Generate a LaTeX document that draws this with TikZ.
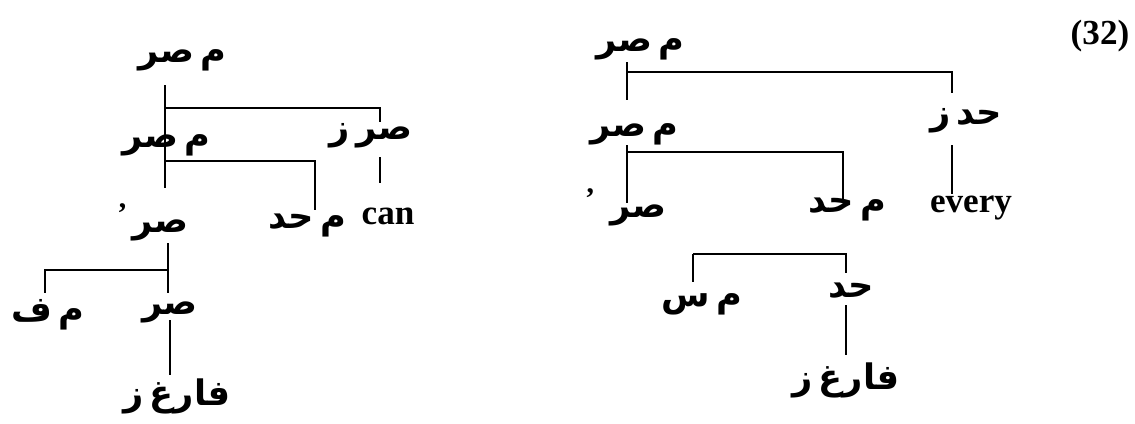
\documentclass[tikz,border=0pt]{standalone}
\usepackage{fontspec}
\setmainfont{Liberation Serif}
\newfontfamily\arabicfont[Script=Arabic,WordSpace=0.5]{DejaVu Sans}
\TeXXeTstate=1
\usetikzlibrary{positioning,calc}
\newcommand{\arb}[1]{{\arabicfont\bfseries\beginR #1\endR}}
\newcommand{\bartick}{\smash{\raisebox{5pt}{\fontsize{17}{17}\selectfont\bfseries'}}\kern3pt}

\begin{document}
\begin{tikzpicture}[
  x = 0.02cm, y = -0.02cm,
  lab/.style = {inner sep=0pt, outer sep=0pt, font=\fontsize{20}{24}\selectfont},
  lat/.style = {inner sep=0pt, outer sep=0pt, font=\fontsize{20}{24}\selectfont\bfseries},
  br/.style  = {line width=1.2pt}
]
  \useasboundingbox (0,0) rectangle (1135,423);

  % left tree
  \node[lab] (LmT)  at (182,60)  {\arb{م صر}};
  \node[lab] (LmS)  at (166,145) {\arb{م صر}};
  \node[lab] (LsZ)  at (371,136) {\arb{صر ز}};
  \node[lat] (Lcan) at (388,216) {can};
  \node[lab] (Lsp)  at (153,230) {\bartick\arb{صر}};
  \node[lab] (Lmh)  at (307,225) {\arb{م حد}};
  \node[lab] (Lmf)  at (48,315)  {\arb{م ف}};
  \node[lab] (Lsr)  at (170,312) {\arb{صر}};
  \node[lab] (Lfz)  at (177,396) {\arb{فارغ ز}};

  \coordinate (Lj1) at (165,108); \coordinate (Lk1) at (380,108);
  \coordinate (Lj2) at (165,161); \coordinate (Lk2) at (315,161);
  \coordinate (Lj3) at (168,270); \coordinate (Lk3) at (45,270);
  \coordinate (Lj4) at (170,345);

  \draw[br] ($(LmT.center -| Lj1)+(0,25)$) -- ($(Lsp.center -| Lj1)+(0,-42)$);
  \draw[br] (Lj1) -- (Lk1) -- ($(LsZ.center -| Lk1)+(0,-14)$);
  \draw[br] ($(LsZ.center -| Lk1)+(0,21)$) -- ($(Lcan.center -| Lk1)+(0,-33)$);
  \draw[br] (Lj2) -- (Lk2) -- ($(Lmh.center -| Lk2)+(0,-15)$);
  \draw[br] ($(Lsp.center -| Lj3)+(0,13)$) -- ($(Lsr.center -| Lj3)+(0,-19)$);
  \draw[br] (Lj3) -- (Lk3) -- ($(Lmf.center -| Lk3)+(0,-22)$);
  \draw[br] ($(Lsr.center -| Lj4)+(0,8)$) -- ($(Lfz.center -| Lj4)+(0,-21)$);

  % right tree
  \node[lab] (RmT)  at (640,49)  {\arb{م صر}};
  \node[lab] (RhZ)  at (966,121) {\arb{حد ز}};
  \node[lat] (Revr) at (971,208) {every};
  \node[lab] (RmS)  at (634,134) {\arb{م صر}};
  \node[lab] (Rsp)  at (626,215) {\bartick\kern6pt\arb{صر}};
  \node[lab] (Rmh)  at (847,209) {\arb{م حد}};
  \node[lab] (Rms)  at (702,304) {\arb{م س}};
  \node[lab] (Rhd)  at (851,291) {\arb{حد}};
  \node[lab] (Rfz)  at (846,380) {\arb{فارغ ز}};

  \coordinate (Rj1) at (627,72);  \coordinate (Rk1) at (952,72);
  \coordinate (Rj2) at (627,152); \coordinate (Rk2) at (843,152);
  \coordinate (Rj3) at (846,254); \coordinate (Rk3) at (693,254);

  \draw[br] ($(RmT.center -| Rj1)+(0,13)$) -- ($(RmS.center -| Rj1)+(0,-34)$);
  \draw[br] (Rj1) -- (Rk1) -- ($(RhZ.center -| Rk1)+(0,-28)$);
  \draw[br] ($(RhZ.center -| Rk1)+(0,24)$) -- ($(Revr.center -| Rk1)+(0,-14)$);
  \draw[br] ($(RmS.center -| Rj2)+(0,11)$) -- ($(Rsp.center -| Rj2)+(0,-12)$);
  \draw[br] (Rj2) -- (Rk2) -- ($(Rmh.center -| Rk2)+(0,-6)$);
  \draw[br] (Rk3) -- (Rj3) -- ($(Rhd.center -| Rj3)+(0,-18)$);
  \draw[br] (Rk3) -- ($(Rms.center -| Rk3)+(0,-22)$);
  \draw[br] ($(Rhd.center -| Rj3)+(0,14)$) -- ($(Rfz.center -| Rj3)+(0,-25)$);

  \node[lat] (num) at (1100,36) {(32)};
\end{tikzpicture}
\end{document}
